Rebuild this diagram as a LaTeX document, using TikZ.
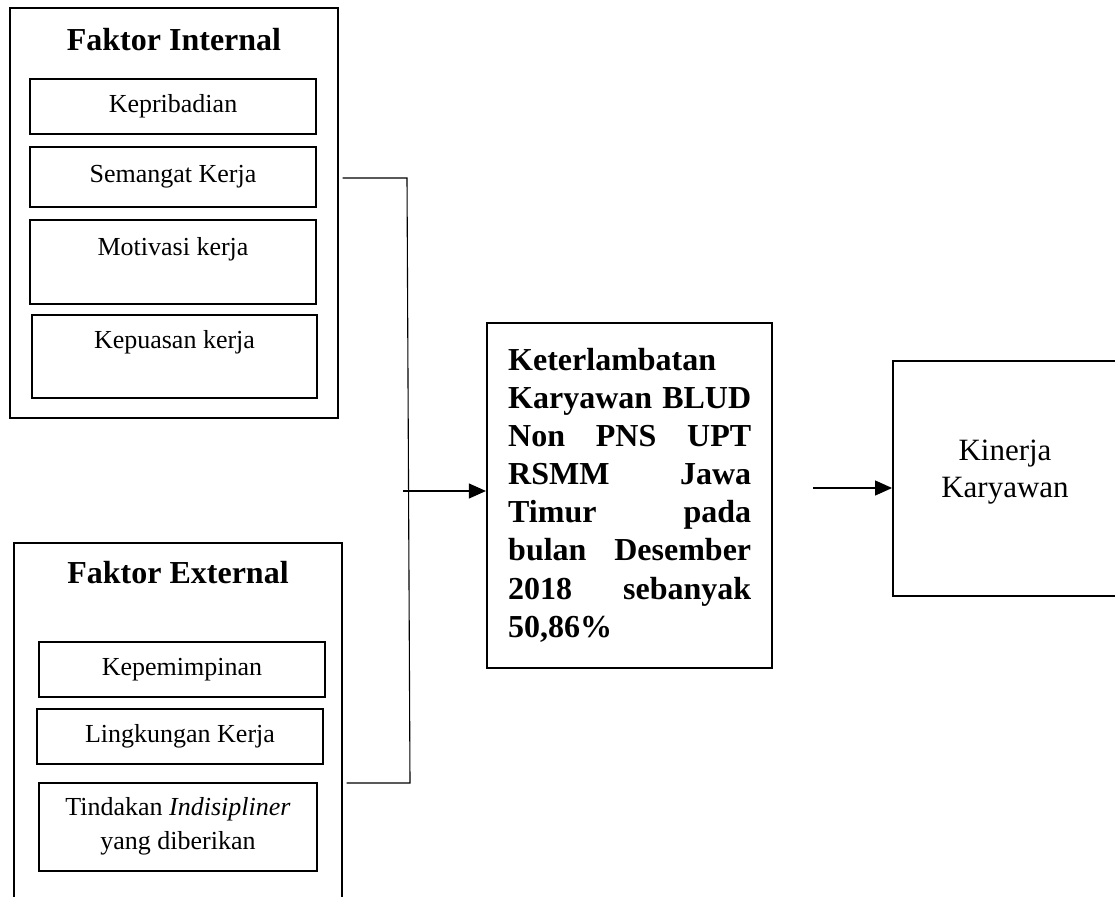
\documentclass[tikz,border=0pt]{standalone}
\usepackage{fontspec}
\setmainfont{Liberation Serif}
\usetikzlibrary{arrows.meta}
\begin{document}
\begin{tikzpicture}[x=1pt,y=-1pt,
  outerbox/.style={draw, line width=1.4pt, inner sep=0pt},
  itembox/.style={draw, line width=1.1pt, inner sep=0pt},
  itemtext/.style={font=\fontsize{26}{34}\selectfont, align=center, inner sep=0pt},
  titletext/.style={font=\bfseries\fontsize{32}{38}\selectfont, inner sep=0pt},
  mainbox/.style={draw, line width=2.2pt, inner sep=0pt},
  conn/.style={line width=1.1pt},
  arr/.style={line width=1.1pt, -{Triangle[length=17pt,width=15pt]}}]
\useasboundingbox (0,0) rectangle (1115,896);
\clip (0,0) rectangle (1115,896);
\fill[white] (0,0) rectangle (1115,896);

% Faktor Internal
\node[outerbox, minimum width=328pt, minimum height=410pt] (intbox) at (174,213) {};
\node[titletext] (inttitle) at (174,40) {Faktor Internal};
\node[itembox, minimum width=286pt, minimum height=55pt] (kep) at (173,106.5) {};
\node[itemtext] (keptxt) at (173,106.5) {Kepribadian};
\node[itembox, minimum width=286pt, minimum height=60pt] (sem) at (173,177) {};
\node[itemtext] (semtxt) at (173,177) {Semangat Kerja};
\node[itembox, minimum width=286pt, minimum height=84pt] (mot) at (173,262) {};
\node[itemtext] (mottxt) at (173,249) {Motivasi kerja};
\node[itembox, minimum width=285pt, minimum height=83pt] (kpu) at (174.5,356.5) {};
\node[itemtext] (kputxt) at (174.5,342) {Kepuasan kerja};

% Faktor External
\node[outerbox, minimum width=328pt, minimum height=380pt] (extbox) at (178,733) {};
\node[titletext] (exttitle) at (178,573) {Faktor External};
\node[itembox, minimum width=286pt, minimum height=55pt] (kpm) at (182,669.5) {};
\node[itemtext] (kpmtxt) at (182,669.5) {Kepemimpinan};
\node[itembox, minimum width=286pt, minimum height=55pt] (lkk) at (180,736.5) {};
\node[itemtext] (lkktxt) at (180,736.5) {Lingkungan Kerja};
\node[itembox, minimum width=278pt, minimum height=88pt] (tdk) at (178,827) {};
\node[itemtext] (tdktxt) at (178,826) {Tindakan \textit{Indisipliner}\\yang diberikan};

% Central box
\node[mainbox, minimum width=285pt, minimum height=345pt] (center) at (629.5,495.5) {};
\node[inner sep=0pt, text width=243pt, align=left,
      font=\bfseries\fontsize{32}{38.1}\selectfont, anchor=north west] (centertxt) at (508,348)
  {Keterlambatan\\
   Karyawan\hfill BLUD\\
   Non\hfill PNS\hfill UPT\\
   RSMM\hfill Jawa\\
   Timur\hfill pada\\
   bulan\hfill Desember\\
   2018\hfill sebanyak\\
   50,86\%};

% Kinerja box
\node[draw, line width=1.9pt, inner sep=0pt, minimum width=240pt, minimum height=235pt] (kin) at (1013,478.5) {};
\node[font=\fontsize{31}{37}\selectfont, align=center, inner sep=0pt] (kintxt) at (1005,472) {Kinerja\\Karyawan};

% Connectors
\coordinate (jt) at (407,178);
\coordinate (jb) at (410,783);
\coordinate (a1) at (403,491);
\coordinate (a2) at (813,488);
\draw[conn] ([xshift=4pt]intbox.east |- jt) -- (jt) -- (jb) -- ([xshift=4pt]extbox.east |- jb);
\draw[arr] (a1) -- (a1 -| center.west);
\draw[arr] (a2) -- (a2 -| kin.west);
\end{tikzpicture}
\end{document}
